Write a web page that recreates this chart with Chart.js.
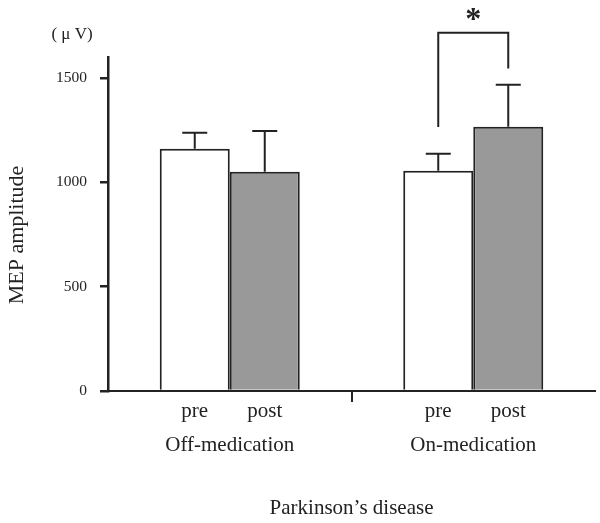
<!DOCTYPE html>
<html>
<head>
<meta charset="utf-8">
<script src="https://cdn.jsdelivr.net/npm/chart.js@4.4.1/dist/chart.umd.min.js"></script>
<style>
  html, body { margin: 0; padding: 0; background: #fff; }
  #wrap { width: 600px; height: 523px; }
</style>
</head>
<body>
<div id="wrap"><canvas id="c" width="600" height="523"></canvas></div>
<script>
// 데이터
const groups = ['Off-medication', 'On-medication'];
const seriesNames = ['pre', 'post'];
const preMean = [1160, 1055];
const postMean = [1050, 1266];
const preErr = [77, 81];
const postErr = [196, 201];
const yTicks = [0, 500, 1000, 1500];
// 유의성 표시 (On-medication pre vs post)
const bracketLegs = [1265, 1545];
const bracketTop = 1716;
const starLevel = 1808;

const SERIF = '"Liberation Serif", "Times New Roman", serif';
const INK = '#222';

// 에러바 + pre/post 라벨 + 유의성 괄호 + 축 제목
const extrasPlugin = {
    id: 'extras',
    afterDatasetsDraw(chart) {
        const ctx = chart.ctx;
        const y = chart.scales.y;
        const area = chart.chartArea;
        const errs = [preErr, postErr];
        const means = [preMean, postMean];

        ctx.save();
        ctx.strokeStyle = INK;
        ctx.lineWidth = 2;
        chart.data.datasets.forEach((ds, di) => {
            const meta = chart.getDatasetMeta(di);
            meta.data.forEach((bar, i) => {
                const yTop = y.getPixelForValue(means[di][i] + errs[di][i]);
                ctx.beginPath();
                ctx.moveTo(bar.x, bar.y);
                ctx.lineTo(bar.x, yTop);
                ctx.moveTo(bar.x - 12.5, yTop);
                ctx.lineTo(bar.x + 12.5, yTop);
                ctx.stroke();

                // pre / post 라벨
                ctx.fillStyle = INK;
                ctx.font = '21px ' + SERIF;
                ctx.textAlign = 'center';
                ctx.textBaseline = 'middle';
                ctx.fillText(seriesNames[di], bar.x, area.bottom + 20);
            });
        });

        // 유의성 괄호
        const left = chart.getDatasetMeta(0).data[1];
        const right = chart.getDatasetMeta(1).data[1];
        const topPx = y.getPixelForValue(bracketTop);
        ctx.beginPath();
        ctx.moveTo(left.x, y.getPixelForValue(bracketLegs[0]));
        ctx.lineTo(left.x, topPx);
        ctx.lineTo(right.x, topPx);
        ctx.lineTo(right.x, y.getPixelForValue(bracketLegs[1]));
        ctx.stroke();

        ctx.fillStyle = INK;
        ctx.font = 'bold 32px ' + SERIF;
        ctx.textAlign = 'center';
        ctx.textBaseline = 'middle';
        ctx.fillText('*', (left.x + right.x) / 2, y.getPixelForValue(starLevel) + 7);

        // 단위
        ctx.font = '17px ' + SERIF;
        ctx.fillText('( μ V)', 72, 35);

        // y축 제목
        ctx.translate(17, 235);
        ctx.rotate(-Math.PI / 2);
        ctx.font = '22px ' + SERIF;
        ctx.fillText('MEP amplitude', 0, 0);
        ctx.restore();
    }
};

const chart = new Chart(document.getElementById('c'), {
    type: 'bar',
    data: {
        labels: groups,
        datasets: [
            {
                label: seriesNames[0],
                data: preMean,
                backgroundColor: '#ffffff',
                borderColor: INK,
                borderWidth: 2,
                barPercentage: 1,
                categoryPercentage: 0.575
            },
            {
                label: seriesNames[1],
                data: postMean,
                backgroundColor: '#999999',
                borderColor: INK,
                borderWidth: 2,
                barPercentage: 1,
                categoryPercentage: 0.575
            }
        ]
    },
    options: {
        responsive: false,
        animation: false,
        devicePixelRatio: 1,
        layout: { padding: { top: 57, right: 5, left: 0, bottom: 0 } },
        plugins: {
            legend: { display: false },
            tooltip: { enabled: false }
        },
        scales: {
            x: {
                grid: {
                    drawOnChartArea: false,
                    tickLength: 11,
                    lineWidth: 2,
                    color: c => c.index === 1 ? INK : 'rgba(0,0,0,0)'
                },
                border: { color: INK, width: 2 },
                ticks: {
                    color: INK,
                    padding: 31,
                    font: { family: SERIF, size: 21 }
                },
                title: {
                    display: true,
                    text: 'Parkinson’s disease',
                    color: INK,
                    font: { family: SERIF, size: 21 },
                    padding: { top: 0, bottom: 2 }
                },
                afterFit(scale) { scale.height = 132; }
            },
            y: {
                min: 0,
                max: 1600,
                grid: {
                    drawOnChartArea: false,
                    tickLength: 8,
                    lineWidth: 2.5,
                    color: INK
                },
                border: { color: INK, width: 2.5 },
                ticks: {
                    color: INK,
                    padding: 13,
                    font: { family: SERIF, size: 15.5 },
                    callback: v => String(v)
                },
                afterBuildTicks(scale) {
                    scale.ticks = yTicks.map(v => ({ value: v }));
                },
                afterFit(scale) { scale.width = 108; }
            }
        }
    },
    plugins: [extrasPlugin]
});
</script>
</body>
</html>
